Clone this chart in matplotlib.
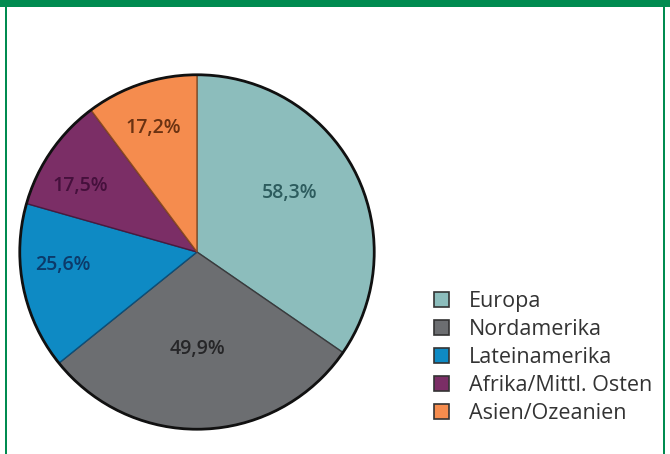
import numpy as np
import matplotlib
matplotlib.use("Agg")
import matplotlib.pyplot as plt
from matplotlib.patches import Rectangle, Patch, Circle

regions = ["Europa", "Nordamerika", "Lateinamerika", "Afrika/Mittl. Osten", "Asien/Ozeanien"]
values = [58.3, 49.9, 25.6, 17.5, 17.2]
value_labels = ["58,3%", "49,9%", "25,6%", "17,5%", "17,2%"]

slice_colors = ["#8cbdbc", "#6c6e71", "#0e8ac4", "#7b2e66", "#f58c4e"]
edge_colors = ["#3f6e6e", "#3a3a3c", "#0b4f7a", "#4a1a3e", "#8a4a22"]
label_colors = ["#2d5c5e", "#262628", "#0c3a6a", "#45103c", "#6a3212"]
label_radius = [0.62, 0.55, 0.76, 0.76, 0.74]
label_shift = [5, -2, -6, 5, 1]

plt.rcParams['font.family'] = ['Open Sans', 'DejaVu Sans']

W, H = 670, 454
fig = plt.figure(figsize=(W / 100, H / 100), dpi=100)
fig.patch.set_facecolor("white")

green = "#008b50"
fig.add_artist(Rectangle((0, 1 - 7 / H), 1, 7 / H, transform=fig.transFigure, color=green, lw=0))
fig.add_artist(Rectangle((5 / W, 0), 2 / W, 1, transform=fig.transFigure, color=green, lw=0))
fig.add_artist(Rectangle((663 / W, 0), 2 / W, 1, transform=fig.transFigure, color=green, lw=0))

cx, cy, r = 197, 252, 179
ax = fig.add_axes([(cx - r) / W, (H - cy - r) / H, 2 * r / W, 2 * r / H])
wedges, _ = ax.pie(values, colors=slice_colors, startangle=90, counterclock=False,
                   radius=1.0, wedgeprops=dict(linewidth=1.0))
for w, ec in zip(wedges, edge_colors):
    w.set_edgecolor(ec)
ax.add_patch(Circle((0, 0), 1.0, fill=False, edgecolor="#111111", linewidth=2.0, zorder=5))

for w, lab, col, rr, sh in zip(wedges, value_labels, label_colors, label_radius, label_shift):
    ang = np.deg2rad((w.theta1 + w.theta2) / 2 + sh)
    ax.text(rr * np.cos(ang), rr * np.sin(ang), lab, ha="center", va="center",
            fontsize=14, fontweight="semibold", color=col)
ax.set_xlim(-1.01, 1.01)
ax.set_ylim(-1.01, 1.01)
ax.set_aspect("equal")
ax.axis("off")

handles = [Patch(facecolor=c, edgecolor="#333333", linewidth=1.2) for c in slice_colors]
leg = fig.legend(handles, regions, loc="upper left",
                 bbox_to_anchor=(425 / W, 1 - 282 / H), frameon=False,
                 fontsize=15.5, handlelength=0.7, handleheight=0.7,
                 handletextpad=0.95, labelspacing=0.33, borderaxespad=0)
for t in leg.get_texts():
    t.set_color("#333333")

fig.savefig("out.png", dpi=100, facecolor="white")
